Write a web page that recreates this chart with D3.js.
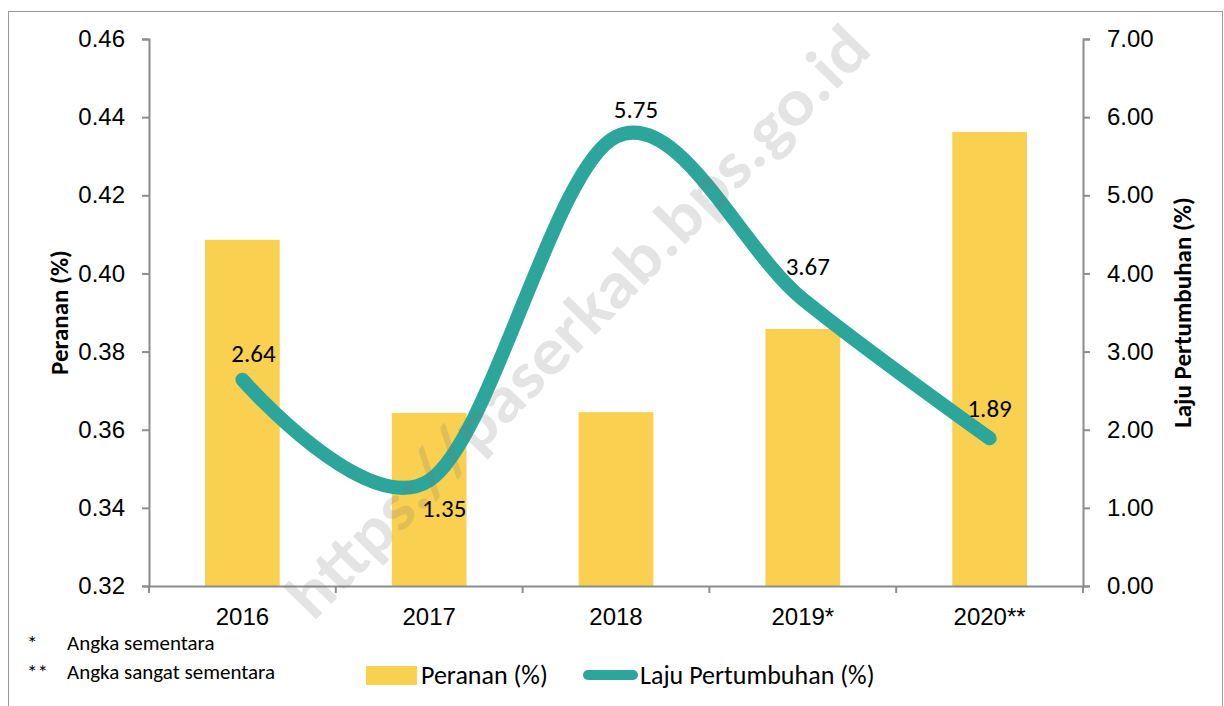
<!DOCTYPE html>
<html>
<head>
<meta charset="utf-8">
<script src="https://cdn.jsdelivr.net/npm/d3@7"></script>
<style>
  body { margin: 0; background: #ffffff; }
  svg { display: block; font-family: Carlito, Calibri, Lato, "Open Sans", sans-serif; }
</style>
</head>
<body>
<script>
// data
const years = ["2016", "2017", "2018", "2019*", "2020**"];
const peranan = [0.4086, 0.3643, 0.3645, 0.3858, 0.4362];
const laju = [2.64, 1.35, 5.75, 3.67, 1.89];
const leftTicks = [0.32, 0.34, 0.36, 0.38, 0.40, 0.42, 0.44, 0.46];
const rightTicks = [0, 1, 2, 3, 4, 5, 6, 7];
const footnotes = [["*", "Angka sementara"], ["**", "Angka sangat sementara"]];

const width = 1224, height = 706;
const m = { left: 149, right: 1083, top: 39, bottom: 586 };
const barColor = "#F9D04F", lineColor = "#2CA69A", axisColor = "#8C8C8C";
const fs = 24;

var svg = d3.select("body").append("svg")
    .attr("width", width)
    .attr("height", height);

// outer frame
svg.append("rect")
    .attr("x", 8.5).attr("y", 11.5)
    .attr("width", 1214).attr("height", 700)
    .attr("fill", "none")
    .attr("stroke", "#9a9a9a");

var x = d3.scaleBand().domain(years).range([m.left, m.right]);
var yL = d3.scaleLinear().domain([0.32, 0.46]).range([m.bottom, m.top]);
var yR = d3.scaleLinear().domain([0, 7]).range([m.bottom, m.top]);

// bars
svg.selectAll(".bar")
    .data(years)
    .enter().append("rect")
    .attr("class", "bar")
    .attr("x", (d) => x(d) + x.bandwidth() * 0.3)
    .attr("width", x.bandwidth() * 0.4)
    .attr("y", (d, i) => yL(peranan[i]))
    .attr("height", (d, i) => yL(0.32) - yL(peranan[i]))
    .attr("fill", barColor);

// axes
var leftAxis = svg.append("g")
    .attr("transform", "translate(" + m.left + ",0)")
    .call(d3.axisLeft(yL).tickValues(leftTicks).tickFormat(d3.format(".2f")).tickSizeOuter(0).tickSize(7).tickPadding(17));

var rightAxis = svg.append("g")
    .attr("transform", "translate(" + m.right + ",0)")
    .call(d3.axisRight(yR).tickValues(rightTicks).tickFormat(d3.format(".2f")).tickSizeOuter(0).tickSize(7).tickPadding(17));

var bottomAxis = svg.append("g")
    .attr("transform", "translate(0," + m.bottom + ")")
    .call(d3.axisBottom(x).tickSize(0).tickPadding(22));

// category boundary ticks
svg.selectAll(".xtick")
    .data(d3.range(years.length + 1))
    .enter().append("line")
    .attr("x1", (i) => m.left + i * x.step())
    .attr("x2", (i) => m.left + i * x.step())
    .attr("y1", m.bottom)
    .attr("y2", m.bottom + 7)
    .attr("stroke", axisColor)
    .attr("stroke-width", 2);

[leftAxis, rightAxis, bottomAxis].forEach(function (g) {
    g.selectAll("path, line").attr("stroke", axisColor).attr("stroke-width", 2);
    g.selectAll("text").attr("font-size", fs).attr("fill", "#000").style("font-family", "inherit");
});

// smoothed line
var line = d3.line()
    .x((d, i) => x(years[i]) + x.bandwidth() / 2)
    .y((d) => yR(d))
    .curve(d3.curveCardinal.tension(0));

svg.append("path")
    .datum(laju)
    .attr("d", line)
    .attr("fill", "none")
    .attr("stroke", lineColor)
    .attr("stroke-width", 14)
    .attr("stroke-linecap", "round");

// data labels
const labelOffsets = [[11, -18], [15, 36], [20, -19], [5, -24], [0, -21]];
svg.selectAll(".lbl")
    .data(laju)
    .enter().append("text")
    .attr("x", (d, i) => x(years[i]) + x.bandwidth() / 2 + labelOffsets[i][0])
    .attr("y", (d, i) => yR(d) + labelOffsets[i][1])
    .attr("text-anchor", "middle")
    .attr("font-size", 25)
    .text((d) => d3.format(".2f")(d));

// axis titles
svg.append("text")
    .attr("transform", "translate(68," + (m.top + m.bottom) / 2 + ") rotate(-90)")
    .attr("text-anchor", "middle")
    .attr("font-size", 25)
    .attr("font-weight", "bold")
    .text("Peranan (%)");

svg.append("text")
    .attr("transform", "translate(1191," + (m.top + m.bottom) / 2 + ") rotate(-90)")
    .attr("text-anchor", "middle")
    .attr("font-size", 25)
    .attr("font-weight", "bold")
    .text("Laju Pertumbuhan (%)");

// footnotes
footnotes.forEach(function (f, i) {
    svg.append("text").attr("x", 27).attr("y", 650 + i * 29).attr("font-size", 21).text(f[0]);
    svg.append("text").attr("x", 67).attr("y", 650 + i * 29).attr("font-size", 21).text(f[1]);
});

// legend
svg.append("rect")
    .attr("x", 366).attr("y", 666)
    .attr("width", 51).attr("height", 19)
    .attr("fill", barColor);
svg.append("text").attr("x", 421).attr("y", 684).attr("font-size", 26).text("Peranan (%)");

svg.append("line")
    .attr("x1", 588).attr("x2", 633)
    .attr("y1", 675).attr("y2", 675)
    .attr("stroke", lineColor)
    .attr("stroke-width", 10)
    .attr("stroke-linecap", "round");
svg.append("text").attr("x", 640).attr("y", 684).attr("font-size", 26).text("Laju Pertumbuhan (%)");

// watermark
svg.append("text")
    .attr("transform", "translate(582,326) rotate(-45.5)")
    .attr("text-anchor", "middle")
    .attr("dominant-baseline", "middle")
    .attr("font-size", 66)
    .attr("font-weight", "bold")
    .attr("textLength", 800)
    .attr("lengthAdjust", "spacingAndGlyphs")
    .attr("fill", "rgba(120,120,120,0.2)")
    .text("https://paserkab.bps.go.id");
</script>
</body>
</html>
